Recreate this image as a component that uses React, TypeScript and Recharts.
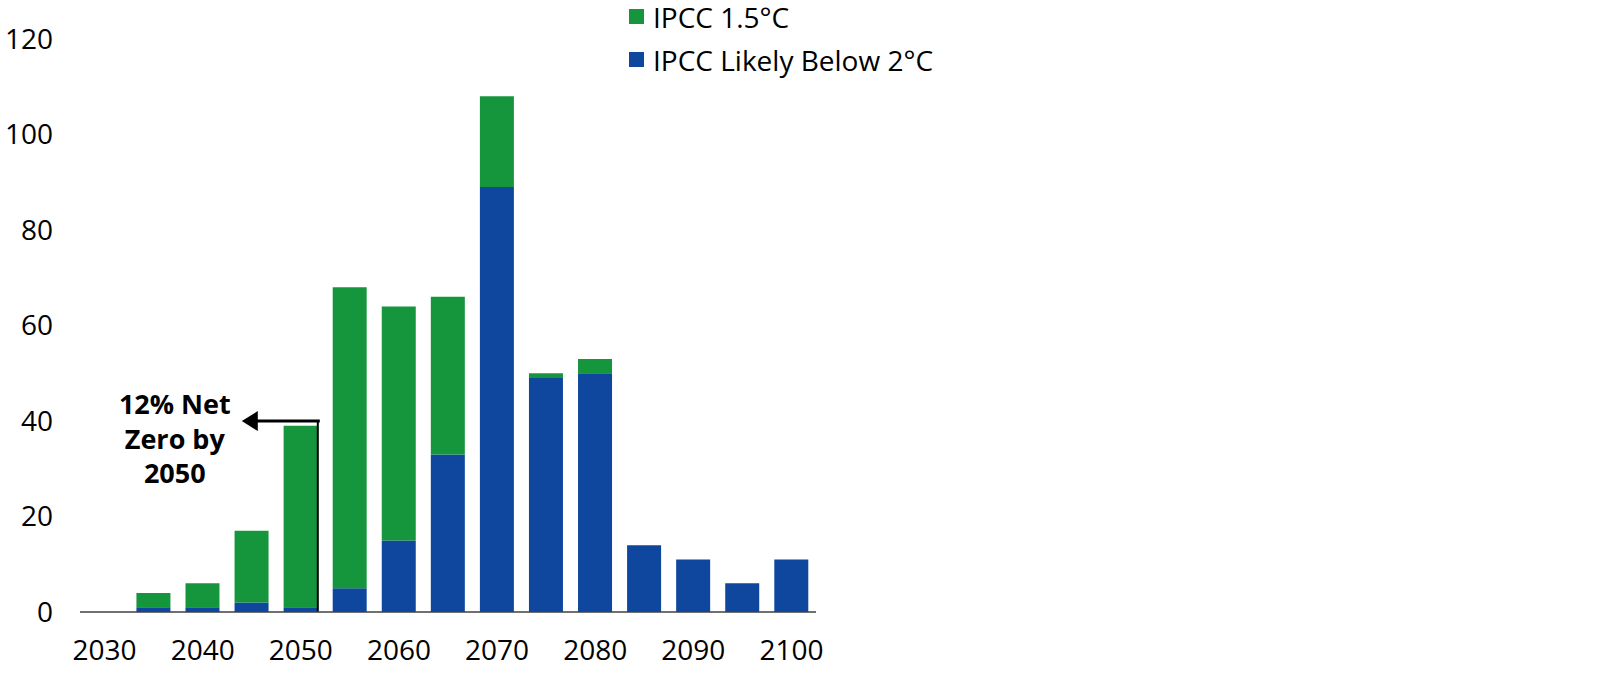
import { Bar, BarChart, ReferenceLine, XAxis, YAxis } from "recharts";

const years = [
  "2030", "2035", "2040", "2045", "2050", "2055", "2060", "2065",
  "2070", "2075", "2080", "2085", "2090", "2095", "2100",
];
// blue part (bottom of the stack)
const likelyBelow2 = [0, 1, 1, 2, 1, 5, 15, 33, 89, 49, 50, 14, 11, 6, 11];
// green part stacked on top
const ipcc15 = [0, 3, 5, 15, 38, 63, 49, 33, 19, 1, 3, 0, 0, 0, 0];
const yTicks = [0, 20, 40, 60, 80, 100, 120];

const GREEN = "#16963c";
const BLUE = "#0e479d";
const FONT = "'Open Sans', sans-serif";

const legendItems = [
  { name: "IPCC 1.5°C", color: GREEN },
  { name: "IPCC Likely Below 2°C", color: BLUE },
];

const data = years.map((year, i) => ({
  year,
  below2: likelyBelow2[i],
  p15: ipcc15[i],
}));

function LegendBox() {
  return (
    <div
      style={{
        position: "absolute",
        left: 629,
        top: -5,
        fontFamily: FONT,
        fontSize: 28,
        color: "#000",
      }}
    >
      {legendItems.map((item) => (
        <div
          key={item.name}
          style={{ display: "flex", alignItems: "center", height: 43 }}
        >
          <span
            style={{
              display: "inline-block",
              width: 15,
              height: 15,
              background: item.color,
              marginRight: 9,
            }}
          />
          <span>{item.name}</span>
        </div>
      ))}
    </div>
  );
}

function NetZeroArrow(props: any) {
  const x = props.x1;
  const yBottom = Math.max(props.y1, props.y2);
  const yTop = Math.min(props.y1, props.y2);
  const edge = x + 17;
  const tip = x - 59;
  const textX = x - 126;
  return (
    <g>
      <line x1={edge} y1={yBottom} x2={edge} y2={yTop} stroke="#000" strokeWidth={2} />
      <line x1={edge + 2} y1={yTop} x2={tip + 14} y2={yTop} stroke="#000" strokeWidth={3} />
      <polygon
        points={`${tip},${yTop} ${tip + 16},${yTop - 10} ${tip + 16},${yTop + 10}`}
        fill="#000"
      />
      <text
        x={textX}
        y={yTop}
        textAnchor="middle"
        fontFamily={FONT}
        fontSize={27}
        fontWeight={700}
        fill="#000"
      >
        <tspan x={textX} dy={-7}>12% Net</tspan>
        <tspan x={textX} dy={35}>Zero by</tspan>
        <tspan x={textX} dy={34}>2050</tspan>
      </text>
    </g>
  );
}

export default function App() {
  return (
    <div style={{ position: "absolute", left: 0, top: 0, background: "#fff" }}>
      <BarChart
        width={1621}
        height={675}
        data={data}
        margin={{ top: 39, right: 805, bottom: 0, left: 0 }}
        barCategoryGap="15%"
      >
        <XAxis
          dataKey="year"
          interval={1}
          height={63}
          tickLine={false}
          tickSize={0}
          tickMargin={28}
          axisLine={{ stroke: "#404040", strokeWidth: 1.5 }}
          tick={{ fill: "#000", fontSize: 28, fontFamily: FONT }}
        />
        <YAxis
          domain={[0, 120]}
          ticks={yTicks}
          width={80}
          axisLine={false}
          tickLine={false}
          tickSize={0}
          tickMargin={27}
          tick={{ fill: "#000", fontSize: 28, fontFamily: FONT }}
        />
        <Bar
          dataKey="below2"
          name="IPCC Likely Below 2°C"
          stackId="s"
          fill={BLUE}
          isAnimationActive={false}
        />
        <Bar
          dataKey="p15"
          name="IPCC 1.5°C"
          stackId="s"
          fill={GREEN}
          isAnimationActive={false}
        />
        <ReferenceLine
          segment={[
            { x: "2050", y: 0 },
            { x: "2050", y: 40 },
          ]}
          shape={<NetZeroArrow />}
        />
      </BarChart>
      <LegendBox />
    </div>
  );
}
